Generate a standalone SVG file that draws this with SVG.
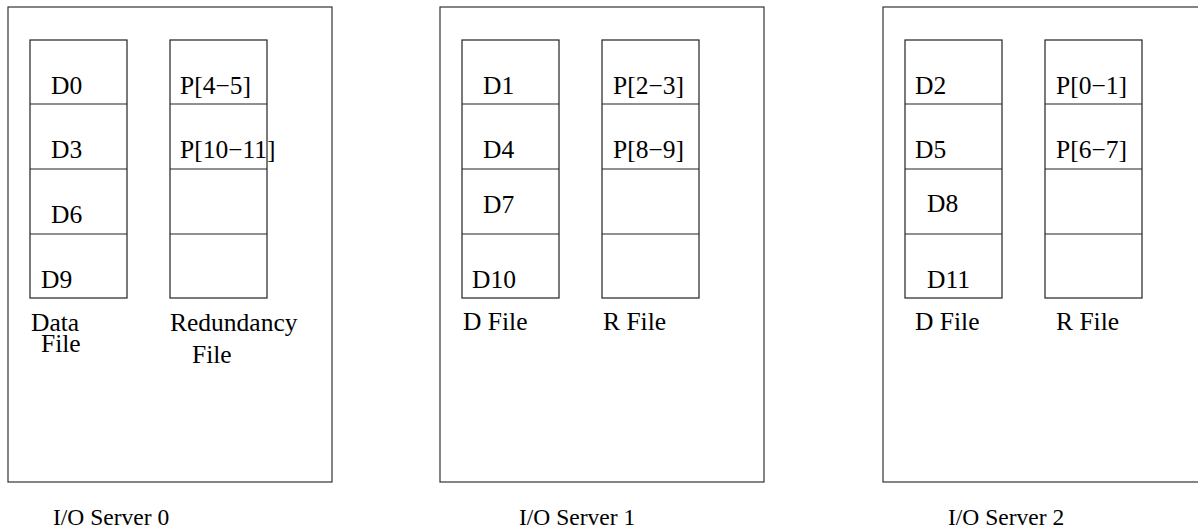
<svg xmlns="http://www.w3.org/2000/svg" width="1198" height="529" viewBox="0 0 1198 529">
  <style>
    .box { fill: none; stroke: #333; stroke-width: 1.2; }
    .cell { fill: none; stroke: #222; stroke-width: 1.2; }
    .t { font-family: "Liberation Serif", "Times New Roman", serif; font-size: 25.5px; fill: #000; }
    .srv { font-family: "Liberation Serif", "Times New Roman", serif; font-size: 23.5px; fill: #000; }
  </style>
  <rect width="1198" height="529" fill="#fff"/>

  <!-- I/O server 0 -->
  <g id="server0">
    <rect class="box" x="8" y="7" width="324" height="475"/>
    <g id="s0-data">
      <rect class="cell" x="30" y="40" width="97" height="258"/>
      <line class="cell" x1="30" y1="104" x2="127" y2="104"/>
      <line class="cell" x1="30" y1="169" x2="127" y2="169"/>
      <line class="cell" x1="30" y1="234" x2="127" y2="234"/>
      <text class="t" x="51" y="94">D0</text>
      <text class="t" x="51" y="158">D3</text>
      <text class="t" x="51" y="223">D6</text>
      <text class="t" x="41" y="288">D9</text>
    </g>
    <g id="s0-red">
      <rect class="cell" x="170" y="40" width="97" height="258"/>
      <line class="cell" x1="170" y1="104" x2="267" y2="104"/>
      <line class="cell" x1="170" y1="169" x2="267" y2="169"/>
      <line class="cell" x1="170" y1="234" x2="267" y2="234"/>
      <text class="t" x="180" y="94">P[4−5]</text>
      <text class="t" x="180" y="158">P[10−11]</text>
    </g>
    <text class="t" x="31" y="331">Data</text>
    <text class="t" x="41" y="352">File</text>
    <text class="t" x="170" y="331">Redundancy</text>
    <text class="t" x="192" y="363">File</text>
    <text class="srv" x="53" y="525">I/O Server 0</text>
  </g>

  <!-- I/O server 1 -->
  <g id="server1">
    <rect class="box" x="440" y="7" width="324" height="475"/>
    <g id="s1-data">
      <rect class="cell" x="462" y="40" width="97" height="258"/>
      <line class="cell" x1="462" y1="104" x2="559" y2="104"/>
      <line class="cell" x1="462" y1="169" x2="559" y2="169"/>
      <line class="cell" x1="462" y1="234" x2="559" y2="234"/>
      <text class="t" x="483" y="94">D1</text>
      <text class="t" x="483" y="158">D4</text>
      <text class="t" x="483" y="213">D7</text>
      <text class="t" x="472" y="288">D10</text>
    </g>
    <g id="s1-red">
      <rect class="cell" x="602" y="40" width="97" height="258"/>
      <line class="cell" x1="602" y1="104" x2="699" y2="104"/>
      <line class="cell" x1="602" y1="169" x2="699" y2="169"/>
      <line class="cell" x1="602" y1="234" x2="699" y2="234"/>
      <text class="t" x="613" y="94">P[2−3]</text>
      <text class="t" x="613" y="158">P[8−9]</text>
    </g>
    <text class="t" x="463" y="330">D File</text>
    <text class="t" x="603" y="330">R File</text>
    <text class="srv" x="519" y="525">I/O Server 1</text>
  </g>

  <!-- I/O server 2 (box runs past the right edge) -->
  <g id="server2">
    <rect class="box" x="883" y="7" width="324" height="475"/>
    <g id="s2-data">
      <rect class="cell" x="905" y="40" width="97" height="258"/>
      <line class="cell" x1="905" y1="104" x2="1002" y2="104"/>
      <line class="cell" x1="905" y1="169" x2="1002" y2="169"/>
      <line class="cell" x1="905" y1="234" x2="1002" y2="234"/>
      <text class="t" x="915" y="94">D2</text>
      <text class="t" x="915" y="158">D5</text>
      <text class="t" x="927" y="212">D8</text>
      <text class="t" x="927" y="288">D11</text>
    </g>
    <g id="s2-red">
      <rect class="cell" x="1045" y="40" width="97" height="258"/>
      <line class="cell" x1="1045" y1="104" x2="1142" y2="104"/>
      <line class="cell" x1="1045" y1="169" x2="1142" y2="169"/>
      <line class="cell" x1="1045" y1="234" x2="1142" y2="234"/>
      <text class="t" x="1056" y="94">P[0−1]</text>
      <text class="t" x="1056" y="158">P[6−7]</text>
    </g>
    <text class="t" x="915" y="330">D File</text>
    <text class="t" x="1056" y="330">R File</text>
    <text class="srv" x="948" y="525">I/O Server 2</text>
  </g>

  <!-- no connectors in this figure -->
  <g id="connectors"/>
</svg>
